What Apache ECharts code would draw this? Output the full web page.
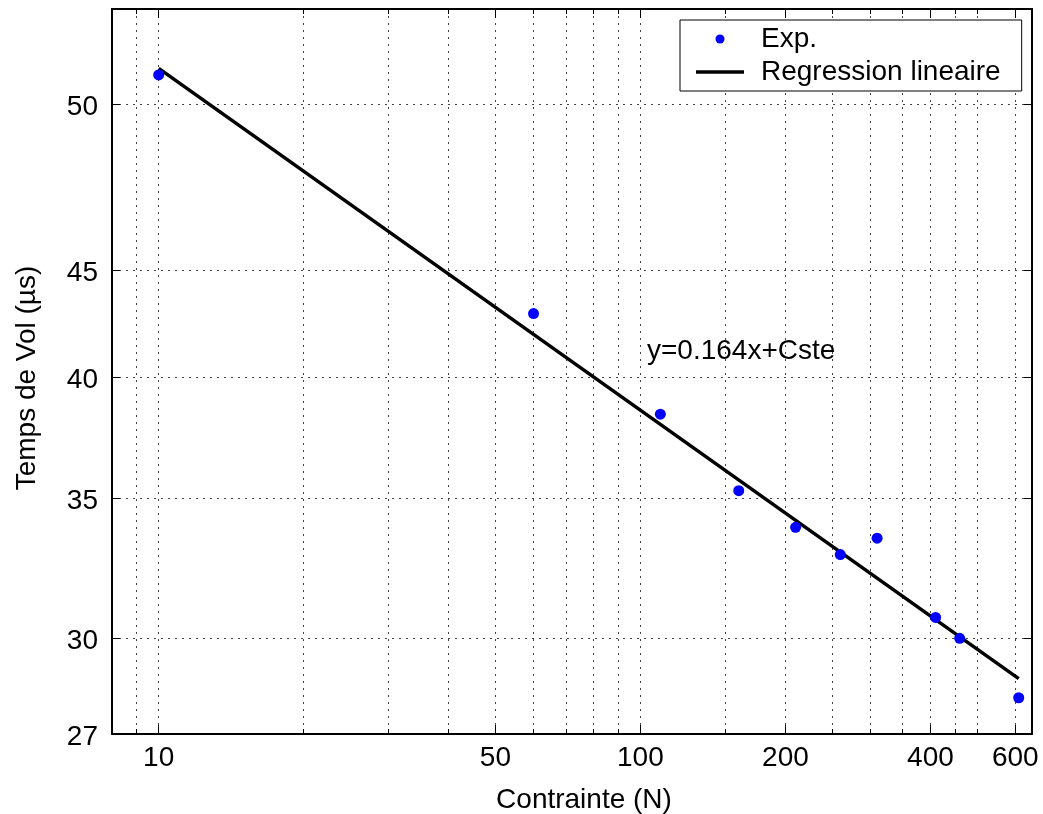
<!DOCTYPE html>
<html><head><meta charset="utf-8">
<script src="https://cdn.jsdelivr.net/npm/echarts@6/dist/echarts.min.js"></script>
<style>html,body{margin:0;padding:0;background:#fff;overflow:hidden}#c{width:1043px;height:814px}</style>
</head><body><div id="c"></div>
<script>
// ---- data ----
const contrainte = [10, 60, 110, 160, 210, 260, 310, 410, 460, 610];
const tempsDeVol = [55.8, 42.9, 38.4, 35.3, 33.9, 32.9, 33.5, 30.7, 30.0, 28.1];
const regressionX = [10, 610];
const regressionY = [56.2, 28.7];
const xMajorTicks = [10, 50, 100, 200, 400, 600];
const xMinorTicks = [9, 20, 30, 40, 60, 70, 80, 90, 150, 250, 300, 350, 450, 500];
const yTickValues = [27, 30, 35, 40, 45, 54];
const yTickLabels = ['27', '30', '35', '40', '45', '50'];
const seriesNames = ['Exp.', 'Regression lineaire'];
const annotationText = 'y=0.164x+Cste';
const xName = 'Contrainte (N)';
const yName = 'Temps de Vol (\u00b5s)';

const FONT = 'Liberation Sans, Arial, Helvetica, sans-serif';
const gridLine = {show: true, lineStyle: {color: '#444', width: 1, type: [2, 5]}};

function nearestLabel(v) {
  let best = 0, bd = Infinity;
  yTickValues.forEach((t, i) => { const d = Math.abs(Math.log(t) - Math.log(v)); if (d < bd) { bd = d; best = i; } });
  return yTickLabels[best];
}

function xAxis(pos, ticks, len, labels, split, line) {
  return {
    type: 'log', logBase: 10, min: 8, max: 650, position: pos, gridIndex: 0,
    axisLine: {show: line, onZero: false, lineStyle: {color: '#000', width: 2}},
    axisTick: {show: true, inside: true, length: len, customValues: ticks, lineStyle: {color: '#000', width: 1}},
    axisLabel: {show: labels, customValues: ticks, margin: 10, color: '#000', fontSize: 28, fontFamily: FONT,
      formatter: v => String(Math.round(v))},
    splitLine: split ? gridLine : {show: false},
    minorTick: {show: false}, minorSplitLine: {show: false}
  };
}
function yAxis(pos, labels, split) {
  return {
    type: 'log', logBase: 10, min: 27, max: 60, position: pos, gridIndex: 0,
    axisLine: {show: true, onZero: false, lineStyle: {color: '#000', width: 2}},
    axisTick: {show: true, inside: true, length: 8, customValues: yTickValues, lineStyle: {color: '#000', width: 1}},
    axisLabel: {show: labels, customValues: yTickValues, margin: 14, color: '#000', fontSize: 28, fontFamily: FONT,
      formatter: v => '{v|' + nearestLabel(v) + '}',
      rich: {v: {fontSize: 28, fontFamily: FONT, color: '#000', padding: [6, 0, 0, 0]}}},
    splitLine: split ? gridLine : {show: false},
    minorTick: {show: false}, minorSplitLine: {show: false}
  };
}

const xs = [
  xAxis('bottom', xMajorTicks, 9, true, true, true),
  xAxis('bottom', xMinorTicks, 5, false, true, false),
  xAxis('top', xMajorTicks, 9, false, false, true),
  xAxis('top', xMinorTicks, 5, false, false, false)
];
Object.assign(xs[0], {name: xName, nameLocation: 'middle', nameGap: 52,
  nameTextStyle: {fontSize: 28, color: '#000', fontFamily: FONT, padding: [0, 0, 0, 24]}});
const ys = [yAxis('left', true, true), yAxis('right', false, false)];
Object.assign(ys[0], {name: yName, nameLocation: 'middle', nameGap: 71,
  nameTextStyle: {fontSize: 28, color: '#000', fontFamily: FONT, padding: [0, 13, 0, 0]}});

const chart = echarts.init(document.getElementById('c'), null, {renderer: 'canvas', width: 1043, height: 814});
chart.setOption({
  animation: false,
  backgroundColor: '#fff',
  textStyle: {fontFamily: FONT},
  grid: {left: 112, top: 9, right: 11, bottom: 80, outerBoundsMode: 'none'},
  xAxis: xs,
  yAxis: ys,
  legend: {
    orient: 'vertical', left: 680, top: 20, padding: [5, 21, 5, 16], itemGap: 5,
    itemWidth: 48, itemHeight: 9, selectedMode: false,
    backgroundColor: '#fff', borderColor: '#000', borderWidth: 1,
    textStyle: {fontSize: 28, color: '#000', fontFamily: FONT, lineHeight: 28, padding: [0, 0, 0, 12]},
    data: [{name: seriesNames[0], icon: 'circle'}, {name: seriesNames[1], icon: 'path://M0,0H48V3.5H0Z'}]
  },
  graphic: [
    {type: 'text', left: 647, top: 337, z: 10,
      style: {text: annotationText, fill: '#000', font: '28px ' + FONT}}
  ],
  series: [
    {name: seriesNames[1], type: 'line', xAxisIndex: 0, yAxisIndex: 0, symbol: 'none', showSymbol: false,
      color: '#000', lineStyle: {color: '#000', width: 3.5}, z: 2,
      data: regressionX.map((x, i) => [x, regressionY[i]])},
    {name: seriesNames[0], type: 'scatter', xAxisIndex: 0, yAxisIndex: 0, symbol: 'circle', symbolSize: 11,
      color: '#0000ff', itemStyle: {color: '#0000ff', opacity: 1}, z: 3,
      data: contrainte.map((x, i) => [x, tempsDeVol[i]])}
  ]
});
</script></body></html>
